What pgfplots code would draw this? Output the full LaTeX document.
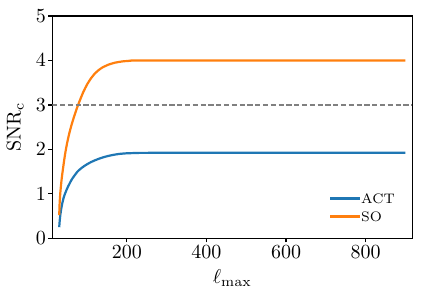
\documentclass[border=0pt]{standalone}
\usepackage{pgfplots}
\pgfplotsset{compat=1.18}
\definecolor{tabblue}{HTML}{1F77B4}
\definecolor{taborange}{HTML}{FF7F0E}
\begin{document}
\begin{tikzpicture}
\begin{axis}[
  scale only axis,
  width=180pt, height=111.15pt,
  xmin=12.6, xmax=917.4,
  ymin=0, ymax=5,
  xtick={200,400,600,800},
  ytick={0,1,2,3,4,5},
  axis line style={line width=0.6pt},
  tick style={line width=0.6pt, black},
  major tick length=2pt,
  tick align=outside,
  xtick pos=bottom, ytick pos=left,
  ticklabel style={font=\fontsize{10}{12}\selectfont},
  xticklabel style={inner sep=0pt, anchor=north, yshift=-1.5pt},
  yticklabel style={inner sep=0pt, anchor=east, xshift=-1pt},
  xlabel={$\ell_{\max}$},
  ylabel={$\mathrm{SNR_c}$},
  every axis x label/.style={at={(axis description cs:0.5,-0.2036)}, anchor=base, inner sep=0pt, font=\fontsize{10}{12}\selectfont},
  every axis y label/.style={at={(axis description cs:-0.0787,0.5)}, rotate=90, anchor=south, inner sep=0pt, font=\fontsize{10}{12}\selectfont},
  legend cell align=left,
  legend image code/.code={\draw[#1] (0pt,0pt) -- (15pt,0pt);},
  legend style={draw=none, fill=none, at={(axis description cs:0.7686,0.2)}, anchor=north west,
    inner sep=0pt, outer sep=0pt, row sep=4.3pt,
    font=\fontsize{6.9}{8}\selectfont,
    nodes={inner sep=0pt, text height=4.7pt, text depth=0pt},
    /tikz/every even column/.append style={column sep=5.5pt}},
]
\addplot[tabblue, line width=1.1pt, line join=round, smooth, tension=0.3] coordinates {
(30,0.25) (31,0.37) (32,0.46) (33,0.54) (35,0.66) (38,0.80) (41,0.91) (44,0.99)
(48,1.08) (52,1.16) (56,1.23) (60,1.30) (65,1.37) (70,1.43) (75,1.49) (80,1.535)
(86,1.58) (92,1.62) (100,1.665) (110,1.715) (120,1.755) (130,1.79) (140,1.82)
(152,1.85) (165,1.875) (180,1.897) (200,1.912) (230,1.92) (260,1.922) (900,1.922)
};
\addlegendentry{ACT}
\addplot[taborange, line width=1.1pt, line join=round, smooth, tension=0.3] coordinates {
(30,0.52) (31,0.78) (32,0.93) (33,1.05) (35,1.24) (37,1.40) (40,1.60) (43,1.79)
(46,1.96) (50,2.15) (55,2.35) (60,2.52) (65,2.67) (70,2.81) (75,2.94) (80,3.06)
(90,3.28) (100,3.46) (110,3.60) (120,3.71) (130,3.79) (140,3.85) (155,3.91)
(170,3.95) (190,3.98) (210,3.993) (240,3.998) (900,4.0)
};
\addlegendentry{SO}
\addplot[gray, line width=0.7pt, dash pattern=on 2.6pt off 1.3pt, forget plot] coordinates {(12.6,3) (917.4,3)};
\end{axis}
\pgfresetboundingbox
\path[use as bounding box] (current axis.south west) ++(-26.15pt,-30.35pt) rectangle ++(211.5pt,149.5pt);
\end{tikzpicture}
\end{document}
